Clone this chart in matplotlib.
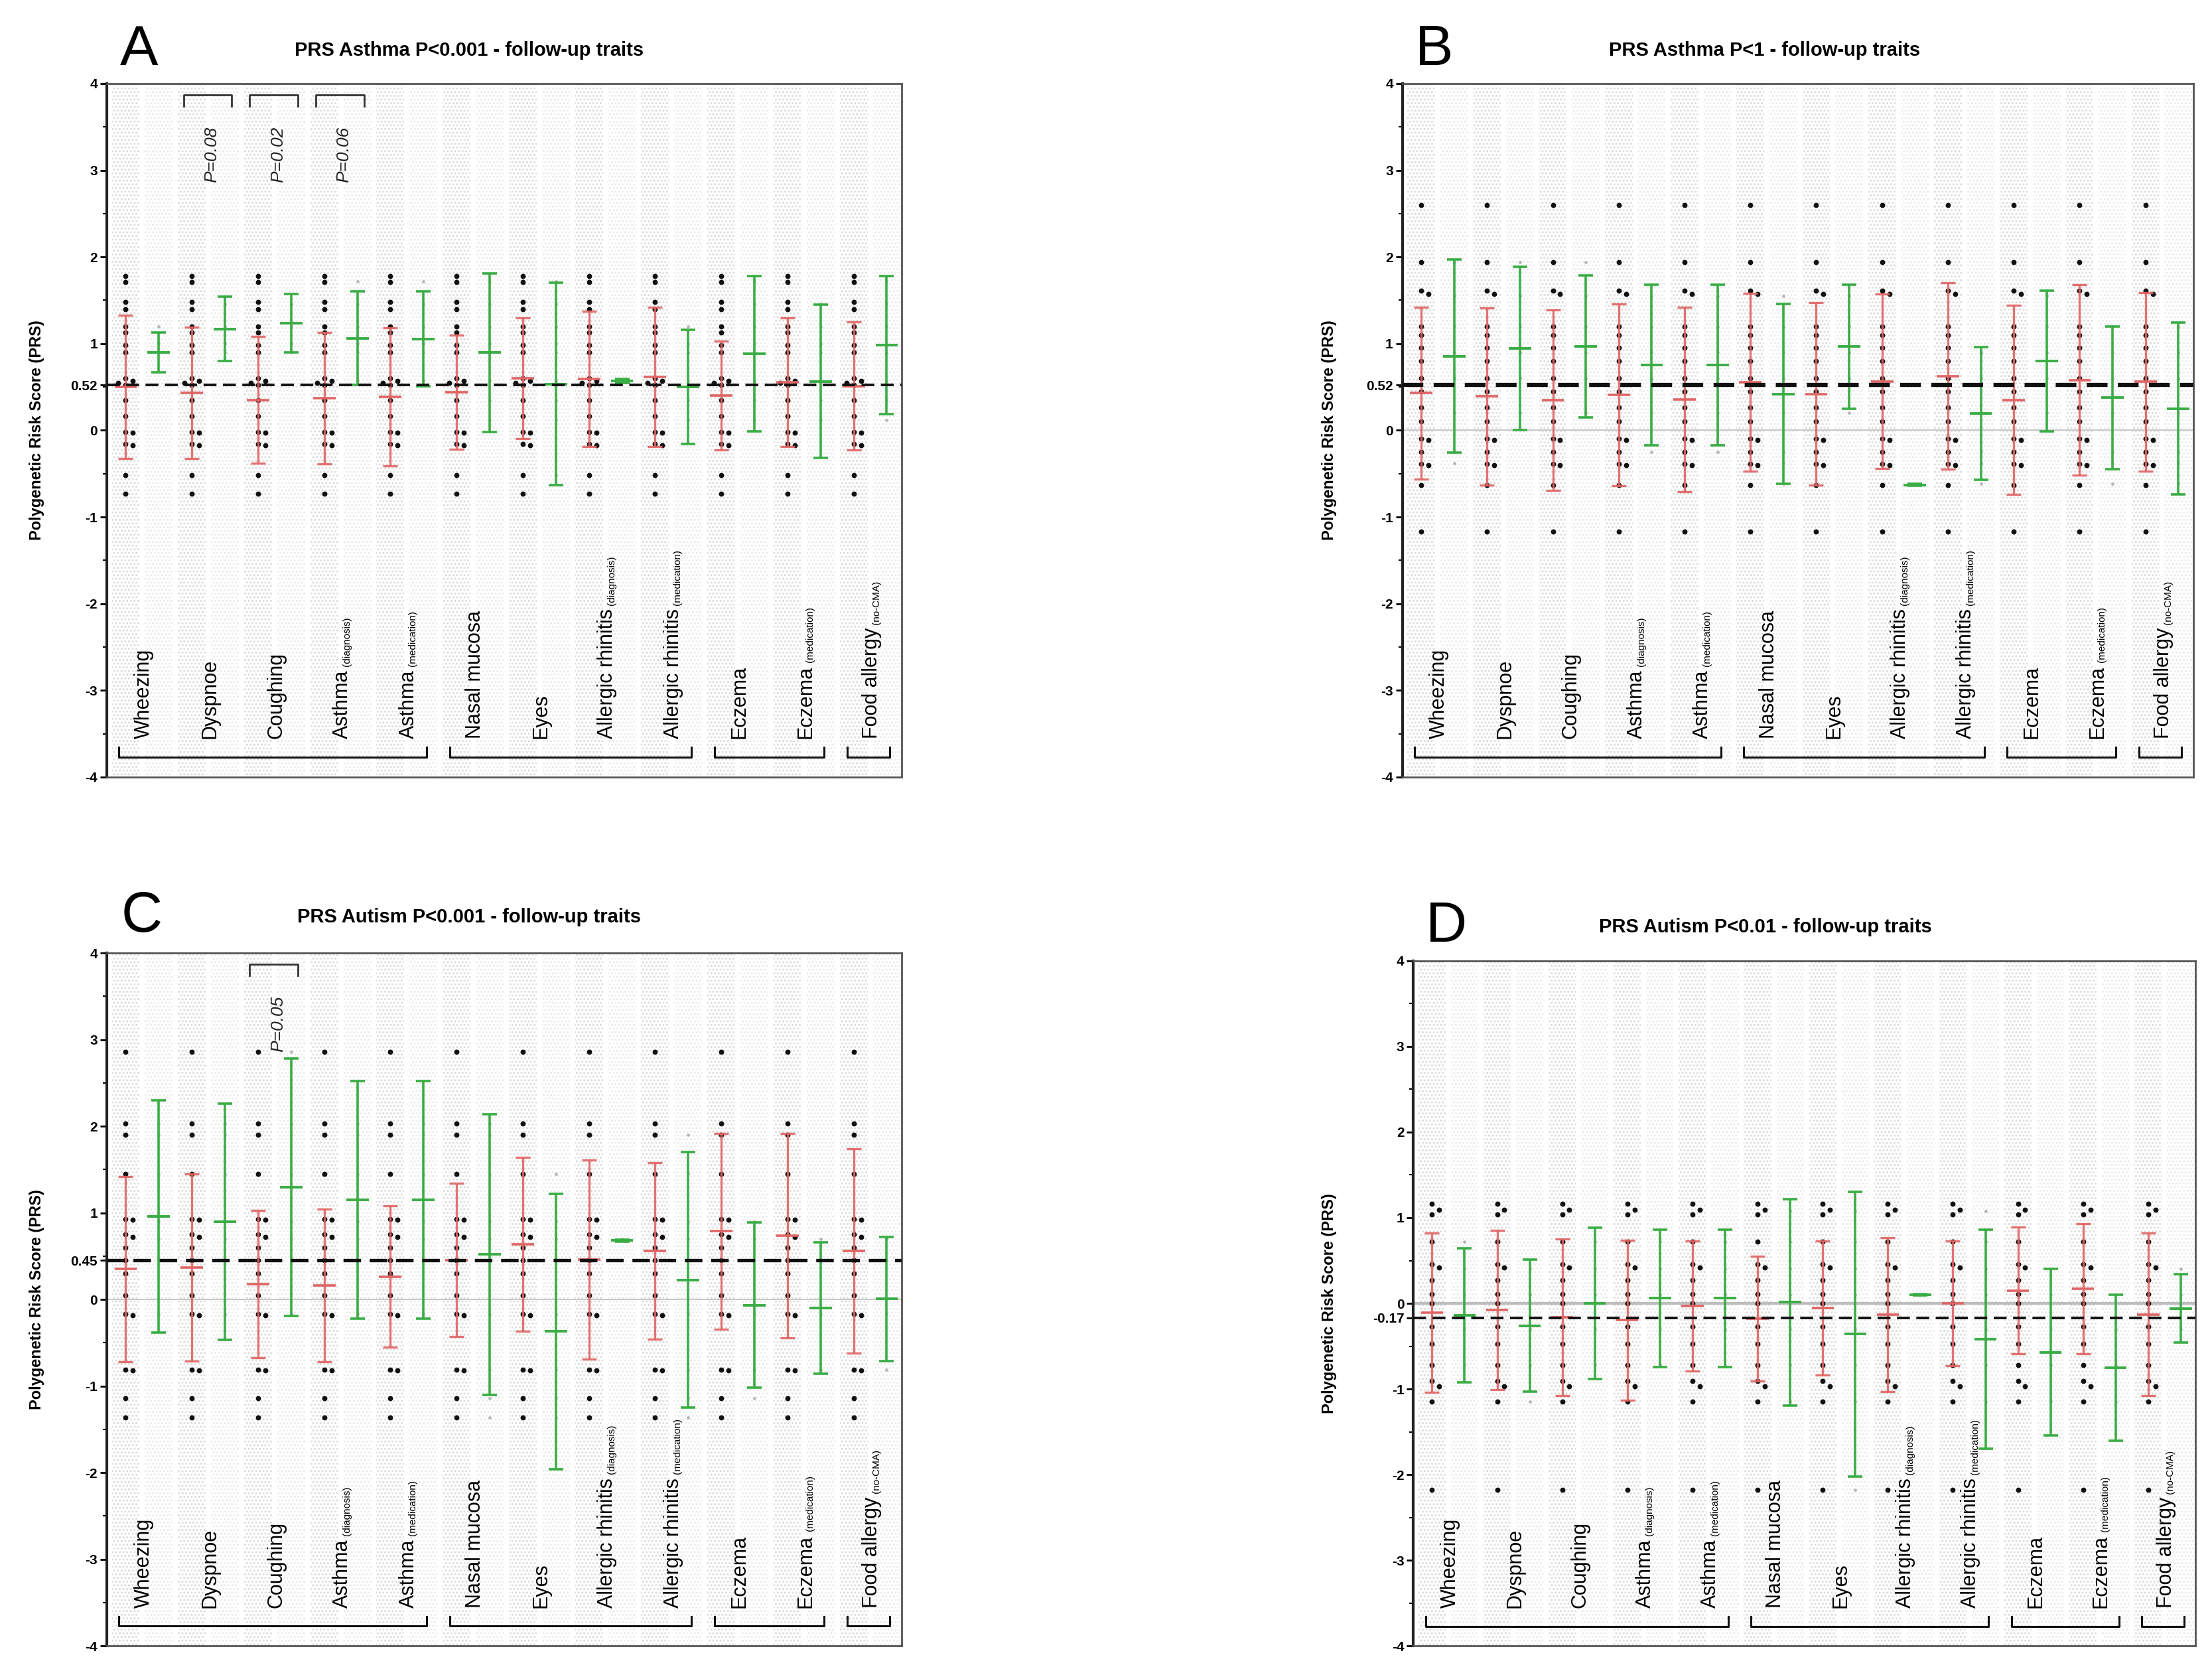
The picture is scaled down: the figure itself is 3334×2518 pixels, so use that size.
import numpy as np
import matplotlib
matplotlib.use('Agg')
from matplotlib import pyplot as plt
from matplotlib.ticker import AutoMinorLocator

plt.rcParams['font.family'] = ['Liberation Sans', 'DejaVu Sans']
plt.rcParams['hatch.linewidth'] = 1.4

categories = ['Wheezing', 'Dyspnoe', 'Coughing', 'Asthma', 'Asthma', 'Nasal mucosa', 'Eyes',
              'Allergic rhinitis', 'Allergic rhinitis', 'Eczema', 'Eczema', 'Food allergy']
subtitles = ['', '', '', '(diagnosis)', '(medication)', '', '', '(diagnosis)', '(medication)',
             '', '(medication)', '(no-CMA)']
groups = [(0, 4), (5, 8), (9, 10), (11, 11)]

# panel A: PRS Asthma P<0.001
a_red_mean = [0.50, 0.43, 0.35, 0.37, 0.385, 0.44, 0.60, 0.59, 0.615, 0.40, 0.555, 0.51]
a_red_sd = [0.825, 0.76, 0.73, 0.76, 0.795, 0.66, 0.70, 0.78, 0.805, 0.63, 0.745, 0.74]
a_green_mean = [0.90, 1.17, 1.235, 1.06, 1.055, 0.895, 0.535, 0.57, 0.50, 0.885, 0.565, 0.985]
a_green_sd = [0.23, 0.37, 0.335, 0.54, 0.545, 0.915, 1.165, 0.02, 0.66, 0.895, 0.885, 0.795]
a_dots = [1.78, 1.71, 1.48, 1.40, 1.20, 1.13, 0.98, 0.90, 0.60, 0.57, 0.55, 0.52, 0.35, 0.16,
          -0.02, -0.03, -0.16, -0.17, -0.52, -0.73]
a_green_dots = [1.72, 1.46, 1.20, 1.00, 0.90, 0.57, 0.35, 0.12, -0.52]
a_threshold = 0.52
a_pvalues = {1: 'P=0.08', 2: 'P=0.02', 3: 'P=0.06'}

# panel B: PRS Asthma P<1
b_red_mean = [0.43, 0.39, 0.35, 0.41, 0.355, 0.555, 0.42, 0.565, 0.625, 0.35, 0.58, 0.56]
b_red_sd = [0.99, 1.02, 1.04, 1.05, 1.065, 1.025, 1.05, 1.005, 1.075, 1.09, 1.10, 1.03]
b_green_mean = [0.855, 0.945, 0.97, 0.755, 0.755, 0.42, 0.965, -0.63, 0.195, 0.80, 0.375, 0.25]
b_green_sd = [1.115, 0.945, 0.82, 0.925, 0.925, 1.04, 0.715, 0.01, 0.765, 0.81, 0.825, 0.99]
b_dots = [2.60, 1.94, 1.61, 1.57, 1.20, 1.10, 0.95, 0.80, 0.60, 0.45, 0.26, 0.10, -0.10, -0.11,
          -0.25, -0.39, -0.40, -0.63, -1.17]
b_green_dots = [1.94, 1.55, 1.20, 0.90, 0.60, 0.20, -0.25, -0.38, -0.62, -1.17]
b_threshold = 0.52
b_pvalues = {}

# panel C: PRS Autism P<0.001
c_red_mean = [0.35, 0.37, 0.18, 0.16, 0.265, 0.455, 0.635, 0.46, 0.56, 0.79, 0.74, 0.56]
c_red_sd = [1.07, 1.08, 0.85, 0.88, 0.815, 0.885, 1.005, 1.15, 1.02, 1.13, 1.18, 1.18]
c_green_mean = [0.96, 0.895, 1.295, 1.15, 1.15, 0.52, -0.37, 0.68, 0.225, -0.065, -0.10, 0.005]
c_green_sd = [1.34, 1.365, 1.485, 1.37, 1.37, 1.62, 1.59, 0.01, 1.475, 0.955, 0.76, 0.715]
c_dots = [2.86, 2.03, 1.90, 1.45, 0.93, 0.92, 0.75, 0.72, 0.60, 0.45, 0.30, 0.05, -0.17, -0.18,
          -0.81, -0.82, -1.14, -1.36]
c_green_dots = [2.86, 2.03, 1.90, 1.45, 0.90, 0.70, 0.45, -0.17, -0.81, -1.14, -1.36]
c_threshold = 0.45
c_pvalues = {2: 'P=0.05'}

# panel D: PRS Autism P<0.01
d_red_mean = [-0.11, -0.08, -0.165, -0.195, -0.03, -0.18, -0.055, -0.13, 0.0, 0.15, 0.17, -0.13]
d_red_sd = [0.93, 0.93, 0.915, 0.935, 0.76, 0.73, 0.785, 0.90, 0.73, 0.74, 0.76, 0.95]
d_green_mean = [-0.14, -0.26, 0.0, 0.06, 0.06, 0.015, -0.36, 0.10, -0.42, -0.57, -0.75, -0.06]
d_green_sd = [0.78, 0.77, 0.88, 0.80, 0.80, 1.205, 1.66, 0.01, 1.28, 0.97, 0.85, 0.40]
d_dots = [1.16, 1.09, 1.04, 0.72, 0.46, 0.42, 0.27, 0.11, 0.0, -0.27, -0.47, -0.72, -0.91,
          -0.97, -1.15, -2.18]
d_green_dots = [1.08, 0.72, 0.40, 0.10, -0.30, -0.72, -1.15, -2.18]
d_threshold = -0.17
d_pvalues = {}

RED = '#e06464'
GREEN = '#3aad45'


def swarm(values, step=0.22, tol=0.07):
    # simple beeswarm: shift points sideways when values are close
    placed = []
    offsets = []
    for v in values:
        for off in [0, step, -step, 2 * step]:
            if all(abs(v - pv) > tol or po != off for pv, po in placed):
                break
        placed.append((v, off))
        offsets.append(off)
    return np.array(offsets)


def draw_panel(ax, red_mean, red_sd, green_mean, green_sd, dots, green_dots, thr, pvals,
               zero_lw, dash_lw):
    n = len(categories)
    xr = np.arange(n) * 2.0
    xg = xr + 1.0

    # dotted background texture
    for x in xr:
        ax.axvspan(x - 0.42, x + 0.42, facecolor='none', edgecolor='#dcdcdc', hatch='...',
                   lw=0, zorder=0)
    for x in xg:
        ax.axvspan(x - 0.42, x + 0.42, facecolor='none', edgecolor='#ebebeb', hatch='...',
                   lw=0, zorder=0)

    if zero_lw > 0:
        ax.axhline(0, color='#bdbdbd', lw=zero_lw, zorder=1)
    ax.axhline(thr, color='#111111', lw=dash_lw, ls=(0, (5, 2.5)), zorder=5)

    dv = np.array(dots)
    offs = swarm(dots)
    gd = np.array(green_dots)
    for i in range(n):
        ax.scatter(xr[i] + offs, dv, s=32, color='#111111', zorder=3, lw=0)
        keep = np.abs(gd - green_mean[i]) <= green_sd[i] * 1.15 + 0.05
        ax.scatter(np.full(keep.sum(), xg[i]), gd[keep], s=12, color='#9a9a9a', zorder=3,
                   lw=0, alpha=0.7)

    ax.errorbar(xr, red_mean, yerr=red_sd, fmt='none', ecolor=RED, elinewidth=2.4,
                capsize=8, capthick=2.4, zorder=4, alpha=0.9)
    ax.hlines(red_mean, xr - 0.34, xr + 0.34, color=RED, lw=2.6, zorder=4)
    ax.errorbar(xg, green_mean, yerr=green_sd, fmt='none', ecolor=GREEN, elinewidth=2.6,
                capsize=8, capthick=2.6, zorder=4)
    ax.hlines(green_mean, xg - 0.34, xg + 0.34, color=GREEN, lw=2.8, zorder=4)

    # category labels
    for i in range(n):
        t = ax.text(xr[i] + 0.55, -3.56, categories[i], rotation=90, ha='center',
                    va='bottom', fontsize=22, zorder=6)
        if subtitles[i]:
            ax.annotate(subtitles[i], xy=(1.0, 1.0), xycoords=t, xytext=(-1, 4),
                        textcoords='offset points', rotation=90, ha='right', va='bottom',
                        fontsize=11, zorder=6)

    # group brackets
    for g0, g1 in groups:
        x0, x1 = xr[g0] - 0.2, xg[g1] + 0.1
        ax.plot([x0, x0, x1, x1], [-3.66, -3.77, -3.77, -3.66], color='#111111', lw=2.2,
                zorder=6)

    # significance brackets
    for i, txt in pvals.items():
        x0, x1 = xr[i] - 0.25, xg[i] + 0.2
        ax.plot([x0, x0, x1, x1], [3.74, 3.87, 3.87, 3.74], color='#333333', lw=2, zorder=6)
        ax.text(xr[i] + 0.6, 2.86, txt, rotation=90, ha='center', va='bottom',
                fontsize=19, style='italic', color='#222222', zorder=6)

    ax.set_xlim(-0.57, 2 * n - 0.55)
    ax.set_ylim(-4, 4)
    ticks = list(range(-4, 5)) + [thr]
    labels = [str(t) for t in range(-4, 5)] + ['%.2f' % thr]
    ax.set_yticks(ticks)
    ax.set_yticklabels(labels, fontsize=15, fontweight='bold')
    ax.yaxis.set_minor_locator(AutoMinorLocator(2))
    ax.tick_params(axis='y', which='major', length=7, width=2, pad=3)
    ax.tick_params(axis='y', which='minor', length=4, width=1.5)
    ax.set_xticks([])
    for side in ['top', 'right', 'bottom']:
        ax.spines[side].set_color('#555555')
        ax.spines[side].set_linewidth(2)
    ax.spines['left'].set_color('#222222')
    ax.spines['left'].set_linewidth(3)


fig = plt.figure(figsize=(33.34, 25.18), dpi=100)

panels = [
    ([0.0483, 0.535, 0.3593, 0.415], a_red_mean, a_red_sd, a_green_mean, a_green_sd, a_dots,
     a_green_dots, a_threshold, a_pvalues, 0, 2.8,
     'A', (0.063, 0.970), 'PRS Asthma P<0.001 - follow-up traits', (0.212, 0.970), 0.0166),
    ([0.634, 0.535, 0.3575, 0.415], b_red_mean, b_red_sd, b_green_mean, b_green_sd, b_dots,
     b_green_dots, b_threshold, b_pvalues, 1.2, 4.5,
     'B', (0.6485, 0.970), 'PRS Asthma P<1 - follow-up traits', (0.7976, 0.970), 0.601),
    ([0.0483, 0.015, 0.3593, 0.4147], c_red_mean, c_red_sd, c_green_mean, c_green_sd, c_dots,
     c_green_dots, c_threshold, c_pvalues, 1.2, 3.8,
     'C', (0.064, 0.451), 'PRS Autism P<0.001 - follow-up traits', (0.212, 0.451), 0.0166),
    ([0.639, 0.015, 0.3535, 0.410], d_red_mean, d_red_sd, d_green_mean, d_green_sd, d_dots,
     d_green_dots, d_threshold, d_pvalues, 3.0, 2.8,
     'D', (0.654, 0.445), 'PRS Autism P<0.01 - follow-up traits', (0.798, 0.445), 0.601),
]

for (rect, rm, rs, gm, gs, dots, gdots, thr, pv, zlw, dlw,
     letter, lpos, title, tpos, ylx) in panels:
    ax = fig.add_axes(rect)
    draw_panel(ax, rm, rs, gm, gs, dots, gdots, thr, pv, zlw, dlw)
    fig.text(lpos[0], lpos[1], letter, fontsize=62, ha='center', va='center')
    fig.text(tpos[0], tpos[1], title, fontsize=21, fontweight='bold', ha='center',
             va='center')
    fig.text(ylx, rect[1] + rect[3] / 2, 'Polygenetic Risk Score (PRS)', rotation=90,
             fontsize=17, fontweight='bold', ha='center', va='center')

fig.savefig('out.png', dpi=100, facecolor='white')
